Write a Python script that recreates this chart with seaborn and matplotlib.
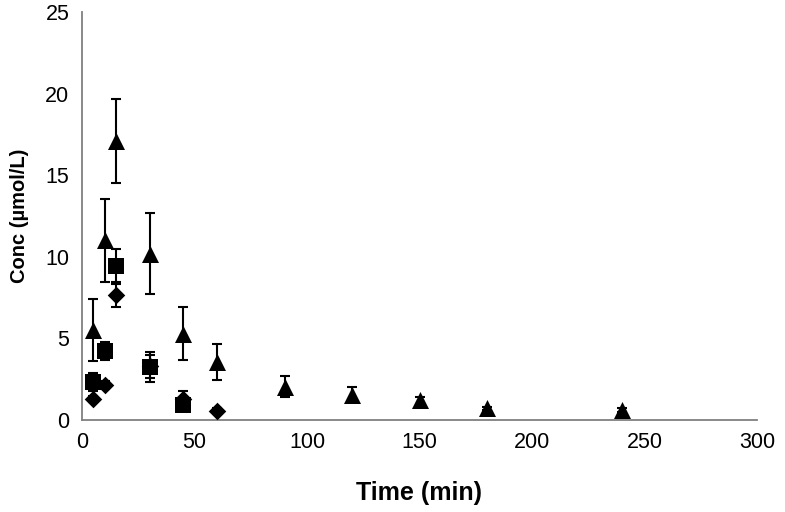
import matplotlib
matplotlib.use("Agg")
import matplotlib.pyplot as plt
import numpy as np
import pandas as pd
import seaborn as sns

# time points (min)
t_tri = [5, 10, 15, 30, 45, 60, 90, 120, 150, 180, 240]
c_tri = [5.5, 11.0, 17.1, 10.2, 5.3, 3.55, 2.05, 1.55, 1.2, 0.72, 0.62]
e_tri = [1.9, 2.55, 2.55, 2.5, 1.6, 1.1, 0.65, 0.45, 0.2, 0.1, 0.1]

t_sq = [5, 10, 15, 30, 45]
c_sq = [2.3, 4.25, 9.45, 3.25, 0.9]
e_sq = [0.55, 0.55, 1.0, 0.9, 0.35]

t_dia = [5, 10, 15, 30, 45, 60]
c_dia = [1.3, 2.15, 7.65, 3.3, 1.3, 0.57]
e_dia = [0.2, 0.25, 0.7, 0.7, 0.5, 0.15]

sns.set_style("white")
plt.rcParams["font.family"] = ["Liberation Sans", "DejaVu Sans"]

fig = plt.figure(figsize=(7.85, 5.12), dpi=100)
ax = fig.add_axes([82 / 785, 92 / 512, 675 / 785, 408 / 512])

series = [
    (t_dia, c_dia, e_dia, "D", 80),
    (t_sq, c_sq, e_sq, "s", 120),
    (t_tri, c_tri, e_tri, "^", 150),
]
for t, c, e, m, s in series:
    ax.errorbar(t, c, yerr=e, fmt="none", ecolor="black", elinewidth=1.5,
                capsize=3.6, capthick=1.5, zorder=2)
    df = pd.DataFrame({"t": t, "c": c})
    sns.scatterplot(data=df, x="t", y="c", marker=m, s=s, color="black",
                    edgecolor="black", linewidth=0, ax=ax, zorder=3)

ax.set_xlim(0, 300)
ax.set_ylim(0, 25)
ax.set_xticks(np.arange(0, 301, 50))
ax.set_yticks(np.arange(0, 26, 5))
for side in ["top", "right"]:
    ax.spines[side].set_visible(False)
for side in ["left", "bottom"]:
    ax.spines[side].set_color("#808080")
    ax.spines[side].set_linewidth(1.3)
ax.tick_params(axis="both", direction="out", length=5, width=1.3,
               color="#808080", labelsize=15.5, labelcolor="black", pad=4)
ax.set_xlabel("Time (min)", fontsize=18, fontweight="bold", labelpad=20,
              color="black")
ax.set_ylabel("Conc (\u00b5mol/L)", fontsize=14.5, fontweight="bold",
              labelpad=12, color="black")

fig.savefig("out.png", dpi=100)
